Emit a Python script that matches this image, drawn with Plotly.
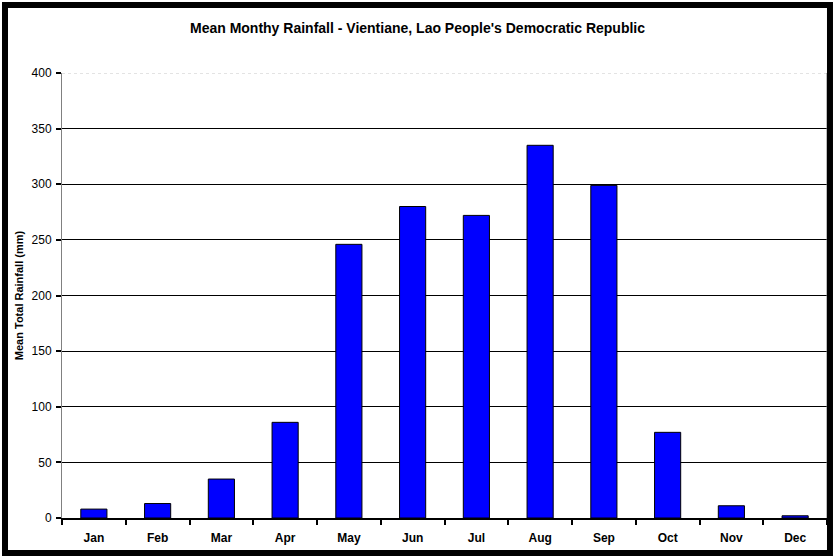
import plotly.graph_objects as go

# Mean monthly rainfall, Vientiane (mm)
months = ['Jan', 'Feb', 'Mar', 'Apr', 'May', 'Jun', 'Jul', 'Aug', 'Sep', 'Oct', 'Nov', 'Dec']
rainfall = [8, 13, 35, 86, 246, 280, 272, 335, 299, 77, 11, 2]
y_ticks = [0, 50, 100, 150, 200, 250, 300, 350, 400]

font_family = 'Liberation Sans, Arial, sans-serif'

fig = go.Figure()
fig.add_trace(go.Bar(
    x=months, y=rainfall, width=0.41,
    marker=dict(color='#0000FF', line=dict(color='black', width=1)),
))

fig.update_layout(
    width=835, height=557,
    margin=dict(l=62, r=8, t=73, b=39),
    paper_bgcolor='white', plot_bgcolor='white',
    showlegend=False,
    title=dict(
        text='<b>Mean Monthy Rainfall - Vientiane, Lao People\'s Democratic Republic</b>',
        x=0.5, xanchor='center', y=0.949, yanchor='middle',
        font=dict(family=font_family, size=14, color='black'),
    ),
    font=dict(family=font_family, color='black'),
)

fig.update_xaxes(
    type='category', tickson='boundaries', ticks='outside', ticklen=5, tickwidth=2,
    tickcolor='black', showline=True, linecolor='black', linewidth=2,
    tickfont=dict(size=12, family=font_family), showgrid=False,
    tickprefix='<b>', ticksuffix='</b>', ticklabelstandoff=8,
)
fig.update_yaxes(
    range=[0, 400], tickvals=y_ticks, ticks='outside', ticklen=5, tickwidth=2,
    tickcolor='black', showline=True, linecolor='#808080', linewidth=1,
    showgrid=True, gridcolor='black', gridwidth=1, zeroline=False,
    tickfont=dict(size=12, family=font_family),
    tickprefix='<b>', ticksuffix='</b>', ticklabelstandoff=2,
    title=dict(text='<b>Mean Total Rainfall (mm)</b>', font=dict(size=11, family=font_family), standoff=5),
)

# dotted light top border of the plot area
fig.add_shape(type='line', xref='paper', yref='y', x0=0, x1=1, y0=400, y1=400,
              line=dict(color='white', width=2))
fig.add_shape(type='line', xref='paper', yref='y', x0=0, x1=1, y0=400, y1=400,
              line=dict(color='#c8c8c8', width=1, dash='dot'))
# plot-area right edge
fig.add_shape(type='line', xref='paper', yref='paper', x0=1, x1=1, y0=0, y1=1,
              line=dict(color='#808080', width=1))
# thick outer frame of the chart
fig.add_shape(type='rect', xref='paper', yref='paper',
              x0=-0.0745, x1=1.0039, y0=-0.0787, y1=1.1528,
              line=dict(color='black', width=6))

# remove the page's default body margin so the figure sits at the window origin
fig.write_html('out.html', config={'displayModeBar': False},
               post_script="document.body.style.margin='0';document.body.style.overflow='hidden';")
